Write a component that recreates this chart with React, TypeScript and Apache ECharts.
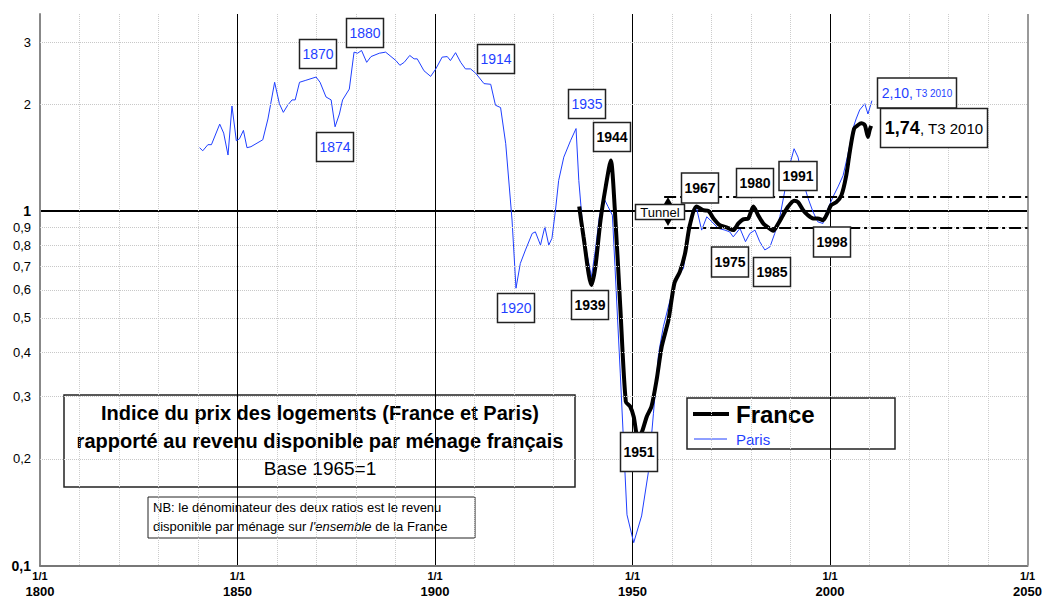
import React, { useEffect, useRef } from "react";
import * as echarts from "echarts";

const FONT = "'Liberation Sans', Arial, sans-serif";

// Paris (blue) – year, ratio
const parisYears = [
  1840.4, 1841.2, 1842.5, 1843.4, 1845.5, 1846.5, 1847.6, 1848.6, 1849.7, 1850.5,
  1851.5, 1852.4, 1853.4, 1856.4, 1857.7, 1859.4, 1860.6, 1861.6, 1862.7, 1863.8,
  1864.6, 1865.7, 1867.3, 1869.9, 1870.9, 1872.4, 1873.7, 1874.7, 1875.8, 1876.6,
  1878.3, 1879.5, 1880.4, 1881.4, 1882.7, 1883.8, 1885.9, 1887.5, 1890.1, 1891.1,
  1892.2, 1893.6, 1894.7, 1895.5, 1897.2, 1898.9, 1900.2, 1901.8, 1903.1, 1903.9,
  1905.2, 1906.5, 1907.7, 1909.0, 1910.3, 1912.4, 1914.1, 1915.3, 1916.6, 1917.9,
  1919.5, 1920.5, 1921.6, 1922.9, 1924.6, 1925.4, 1926.7, 1927.8, 1928.8, 1929.6,
  1930.5, 1931.3, 1932.6, 1934.3, 1935.7, 1936.4, 1937.6, 1939.6, 1940.6, 1941.6,
  1942.7, 1943.8, 1944.9, 1945.6, 1946.9, 1947.7, 1948.6, 1950.3, 1952.3, 1954.0,
  1955.3, 1956.6, 1957.8, 1959.5, 1961.2, 1962.9, 1964.1, 1965.4, 1966.2, 1967.5,
  1968.8, 1970.1, 1971.7, 1973.4, 1974.6, 1975.5, 1977.2, 1978.6, 1979.7, 1981.0,
  1982.2, 1983.5, 1984.8, 1986.0, 1987.3, 1988.6, 1989.8, 1990.9, 1991.9, 1993.2,
  1994.4, 1995.7, 1996.9, 1998.2, 1999.3, 2000.8, 2002.0, 2003.3, 2004.5, 2005.8,
  2006.6, 2007.5, 2008.8, 2009.6, 2010.6,
];
const parisValues = [
  1.51, 1.48, 1.54, 1.54, 1.76, 1.66, 1.44, 1.98, 1.58, 1.6,
  1.69, 1.51, 1.52, 1.59, 1.82, 2.31, 2.01, 1.9, 1.99, 2.06,
  2.06, 2.31, 2.34, 2.39, 2.31, 2.1, 2.06, 1.73, 1.88, 2.06,
  2.21, 2.81, 2.79, 2.84, 2.63, 2.73, 2.79, 2.81, 2.66, 2.58,
  2.63, 2.75, 2.69, 2.69, 2.49, 2.4, 2.52, 2.72, 2.73, 2.66,
  2.8, 2.63, 2.52, 2.52, 2.45, 2.29, 2.28, 1.99, 1.96, 1.55,
  0.944, 0.606, 0.712, 0.777, 0.865, 0.874, 0.802, 0.903, 0.802, 0.838,
  1.006, 1.22, 1.42, 1.58, 1.71, 1.22, 0.846, 0.653, 0.777, 0.964,
  1.09, 1.03, 0.974, 0.682, 0.349, 0.226, 0.139, 0.116, 0.138, 0.183,
  0.269, 0.397, 0.472, 0.561, 0.653, 0.689, 0.865, 0.995, 1.02, 0.884,
  0.964, 0.933, 0.894, 0.884, 0.874, 0.846, 0.894, 0.82, 0.865, 0.884,
  0.82, 0.777, 0.793, 0.865, 0.964, 1.15, 1.35, 1.5, 1.42, 1.21,
  1.09, 0.995, 0.933, 0.923, 1.006, 1.1, 1.17, 1.26, 1.44, 1.71,
  1.82, 1.93, 2.01, 1.88, 2.05,
];

// France (black) – year, ratio
const franceYears = [
  1936.5, 1937.6, 1939.6, 1940.6, 1941.9, 1943.2, 1944.5, 1945.5, 1946.9, 1948.3,
  1949.4, 1950.3, 1951.3, 1952.3, 1953.6, 1954.8, 1956.1, 1957.4, 1959.1, 1960.6,
  1962.0, 1963.3, 1964.5, 1966.2, 1967.9, 1969.2, 1970.5, 1972.1, 1973.8, 1975.5,
  1976.8, 1978.0, 1979.3, 1980.6, 1981.8, 1983.1, 1984.3, 1985.6, 1986.9, 1988.1,
  1989.4, 1990.9, 1991.9, 1993.2, 1994.4, 1995.7, 1996.9, 1998.2, 1999.3, 2000.3,
  2001.6, 2002.9, 2004.1, 2005.0, 2006.1, 2007.1, 2007.9, 2008.8, 2009.6, 2010.0,
  2010.4,
];
const franceValues = [
  1.03, 0.846, 0.619, 0.697, 0.943, 1.17, 1.39, 1.02, 0.537, 0.29,
  0.281, 0.263, 0.231, 0.237, 0.263, 0.281, 0.334, 0.415, 0.493, 0.626,
  0.675, 0.76, 0.912, 1.03, 1.006, 1.002, 0.954, 0.913, 0.9, 0.884,
  0.923, 0.948, 0.954, 1.03, 0.974, 0.923, 0.9, 0.88, 0.923, 0.974,
  1.03, 1.07, 1.06, 1.006, 0.974, 0.954, 0.954, 0.943, 0.985, 1.04,
  1.06, 1.11, 1.26, 1.47, 1.71, 1.75, 1.77, 1.75, 1.62, 1.69,
  1.74,
];

// y grid ticks (log axis) and their labels
const yGridTicks = [0.2, 0.3, 0.4, 0.5, 0.6, 0.7, 0.8, 0.9, 2, 3];
const yGridLabels = ["0,2", "0,3", "0,4", "0,5", "0,6", "0,7", "0,8", "0,9", "2", "3"];

// tunnel bounds
const tunnelBounds = [1.1, 0.9];
const tunnelYears = [1958, 2050];

// annotations: [text, cx, cy, w, h]
const parisNotes: [string, number, number, number, number][] = [
  ["1870", 318, 54, 37, 29],
  ["1880", 365, 33, 37, 29],
  ["1874", 335, 147, 37, 29],
  ["1914", 496, 59, 37, 29],
  ["1920", 516, 308, 37, 29],
  ["1935", 587, 104, 37, 29],
];
const franceNotes: [string, number, number, number, number][] = [
  ["1944", 612, 137, 37, 29],
  ["1939", 590, 305, 37, 29],
  ["1951", 639, 452, 37, 39],
  ["1967", 700, 188, 37, 30],
  ["1980", 755, 183, 37, 29],
  ["1991", 798, 176, 38, 29],
  ["1998", 832, 242, 37, 30],
  ["1975", 730, 262, 37, 30],
  ["1985", 772, 272, 37, 29],
];

const BLUE = "#1f3fff";

function boxEl(cx: number, cy: number, w: number, h: number, textStyle: any, z = 50) {
  return {
    type: "group",
    z,
    children: [
      {
        type: "rect",
        shape: { x: cx - w / 2, y: cy - h / 2, width: w, height: h },
        style: { fill: "#fff", stroke: "#222", lineWidth: 1.5 },
        z,
      },
      {
        type: "text",
        x: cx,
        y: cy,
        z: z + 1,
        style: {
          textAlign: "center",
          textVerticalAlign: "middle",
          align: "center",
          verticalAlign: "middle",
          ...textStyle,
        },
      },
    ],
  };
}

function centered(text: string, x: number, y: number, font: string) {
  return {
    type: "text",
    x,
    y,
    style: {
      text,
      font,
      fill: "#000",
      textAlign: "center",
      textVerticalAlign: "middle",
      align: "center",
      verticalAlign: "middle",
    },
  };
}

export default function App() {
  const ref = useRef<HTMLDivElement>(null);
  useEffect(() => {
    document.body.style.margin = "0";
    if (!ref.current) return;
    const chart = echarts.init(ref.current, null, { renderer: "svg" });

    const paris = parisYears.map((y, i) => [y, parisValues[i]]);
    const france = franceYears.map((y, i) => [y, franceValues[i]]);

    const graphics: any[] = [];
    parisNotes.forEach(([t, cx, cy, w, h]) =>
      graphics.push(boxEl(cx, cy, w, h, { text: t, fill: BLUE, font: `14px ${FONT}` }))
    );
    franceNotes.forEach(([t, cx, cy, w, h]) =>
      graphics.push(boxEl(cx, cy, w, h, { text: t, fill: "#000", font: `bold 14px ${FONT}` }))
    );
    graphics.push(
      boxEl(917, 93, 79, 30, {
        text: "{a|2,10,}{b| T3 2010}",
        rich: {
          a: { fill: BLUE, color: BLUE, fontSize: 14, fontFamily: FONT },
          b: { fill: BLUE, color: BLUE, fontSize: 10, fontFamily: FONT },
        },
      })
    );
    graphics.push(
      boxEl(934, 128, 107, 39, {
        text: "{a|1,74}{b|, T3 2010}",
        rich: {
          a: { fill: "#000", color: "#000", fontSize: 18, fontWeight: "bold", fontFamily: FONT },
          b: { fill: "#000", color: "#000", fontSize: 15, fontFamily: FONT },
        },
      }, 52)
    );
    // Tunnel label + arrows
    graphics.push(boxEl(660, 212, 49, 15, { text: "Tunnel", fill: "#000", font: `13px ${FONT}` }));
    graphics.push({
      type: "polygon",
      z: 55,
      shape: { points: [[664, 204], [672, 204], [668, 197]] },
      style: { fill: "#000" },
    });
    graphics.push({
      type: "polygon",
      z: 55,
      shape: { points: [[664, 219], [672, 219], [668, 226]] },
      style: { fill: "#000" },
    });

    // Title box
    graphics.push({
      type: "group",
      z: 60,
      children: [
        {
          type: "rect",
          shape: { x: 64, y: 395, width: 511, height: 92 },
          style: { fill: "#fff", stroke: "#222", lineWidth: 1.5 },
        },
        centered("Indice du prix des logements (France et Paris)", 320, 413, `bold 20px ${FONT}`),
        centered("rapporté au revenu disponible par ménage français", 320, 441, `bold 20px ${FONT}`),
        centered("Base 1965=1", 320, 468, `19px ${FONT}`),
      ],
    });
    // NB box
    graphics.push({
      type: "group",
      z: 60,
      children: [
        {
          type: "rect",
          shape: { x: 148, y: 497, width: 327, height: 41 },
          style: { fill: "#fff", stroke: "#222", lineWidth: 1 },
        },
        {
          type: "text",
          x: 153,
          y: 507,
          style: {
            text: "NB: le dénominateur des deux ratios est le revenu",
            font: `13px ${FONT}`,
            fill: "#000",
            textVerticalAlign: "middle",
            verticalAlign: "middle",
          },
        },
        {
          type: "text",
          x: 153,
          y: 526,
          style: {
            text: "{n|disponible par ménage sur }{i|l'ensemble}{n| de la France}",
            verticalAlign: "middle",
            textVerticalAlign: "middle",
            rich: {
              n: { fontSize: 13, fontFamily: FONT, fill: "#000", color: "#000" },
              i: { fontSize: 13, fontFamily: FONT, fontStyle: "italic", fill: "#000", color: "#000" },
            },
          },
        },
      ],
    });
    // Legend box
    graphics.push({
      type: "group",
      z: 60,
      children: [
        {
          type: "rect",
          shape: { x: 687, y: 398, width: 208, height: 51 },
          style: { fill: "#fff", stroke: "#222", lineWidth: 1.5 },
        },
        {
          type: "line",
          shape: { x1: 693, y1: 414, x2: 729, y2: 414 },
          style: { stroke: "#000", lineWidth: 4 },
        },
        {
          type: "text",
          x: 736,
          y: 414,
          style: {
            text: "France",
            font: `bold 24px ${FONT}`,
            fill: "#000",
            textVerticalAlign: "middle",
            verticalAlign: "middle",
          },
        },
        {
          type: "line",
          shape: { x1: 694, y1: 439, x2: 727, y2: 439 },
          style: { stroke: BLUE, lineWidth: 1 },
        },
        {
          type: "text",
          x: 736,
          y: 439,
          style: {
            text: "Paris",
            font: `15px ${FONT}`,
            fill: BLUE,
            textVerticalAlign: "middle",
            verticalAlign: "middle",
          },
        },
      ],
    });

    chart.setOption({
      animation: false,
      backgroundColor: "#fff",
      textStyle: { fontFamily: FONT },
      grid: { left: 40, right: 15, top: 14, bottom: 32, containLabel: false },
      xAxis: {
        type: "value",
        min: 1800,
        max: 2050,
        interval: 50,
        axisLine: { show: true, lineStyle: { color: "#777", width: 2 } },
        axisTick: { show: false },
        minorTick: { show: false, splitNumber: 5 },
        minorSplitLine: { show: true, lineStyle: { color: "#ccc", type: "dotted", width: 1 } },
        splitLine: {
          show: true,
          lineStyle: { color: ["#888", "#000", "#000", "#000", "#000", "#999"], width: 1 },
        },
        axisLabel: {
          margin: 3,
          formatter: (v: number) => `{a|1/1}\n{b|${v}}`,
          rich: {
            a: { fontSize: 11, fontWeight: "bold", color: "#000", fontFamily: FONT, lineHeight: 14 },
            b: { fontSize: 13, fontWeight: "bold", color: "#000", fontFamily: FONT, lineHeight: 18 },
          },
        },
      },
      yAxis: {
        type: "log",
        logBase: 10,
        min: 0.1,
        max: 3.6,
        axisLine: { show: true, lineStyle: { color: "#888", width: 2 } },
        axisTick: { show: false },
        splitLine: { show: true, showMaxLine: false, lineStyle: { color: "#000", width: 2 } },
        axisLabel: {
          showMaxLabel: false,
          margin: 9,
          fontSize: 14,
          fontWeight: "bold",
          color: "#000",
          fontFamily: FONT,
          formatter: (v: number) =>
            Math.abs(v - 1) < 1e-6 ? "1" : Math.abs(v - 0.1) < 1e-6 ? "0,1" : "",
        },
      },
      series: [
        {
          name: "grid",
          type: "line",
          data: [],
          z: 1,
          silent: true,
          markLine: {
            silent: true,
            symbol: ["none", "none"],
            lineStyle: { color: "#c8c8c8", type: "dotted", width: 1 },
            label: {
              show: true,
              position: "start",
              distance: 9,
              color: "#000",
              fontSize: 13,
              fontFamily: FONT,
            },
            data: [
              ...yGridTicks.map((v, i) => ({
                yAxis: v,
                label: { formatter: yGridLabels[i] },
              })),
              {
                xAxis: 2050,
                label: { show: false },
                lineStyle: { color: "#999", type: "solid", width: 2 },
              },
            ],
          },
        },
        {
          name: "Paris",
          type: "line",
          data: paris,
          showSymbol: false,
          z: 3,
          lineStyle: { color: BLUE, width: 1 },
          itemStyle: { color: BLUE },
        },
        {
          name: "France",
          type: "line",
          data: france,
          showSymbol: false,
          smooth: 0.25,
          z: 4,
          lineStyle: { color: "#000", width: 4 },
          itemStyle: { color: "#000" },
          markLine: {
            silent: true,
            symbol: ["none", "none"],
            label: { show: false },
            lineStyle: { color: "#000", width: 2, type: [12, 4, 3, 4] },
            data: tunnelBounds.map((b) => [
              { coord: [tunnelYears[0], b] },
              { coord: [tunnelYears[1], b] },
            ]),
          },
        },
      ],
      graphic: graphics,
    });
    return () => chart.dispose();
  }, []);
  return <div ref={ref} style={{ width: 1045, height: 598 }} />;
}
